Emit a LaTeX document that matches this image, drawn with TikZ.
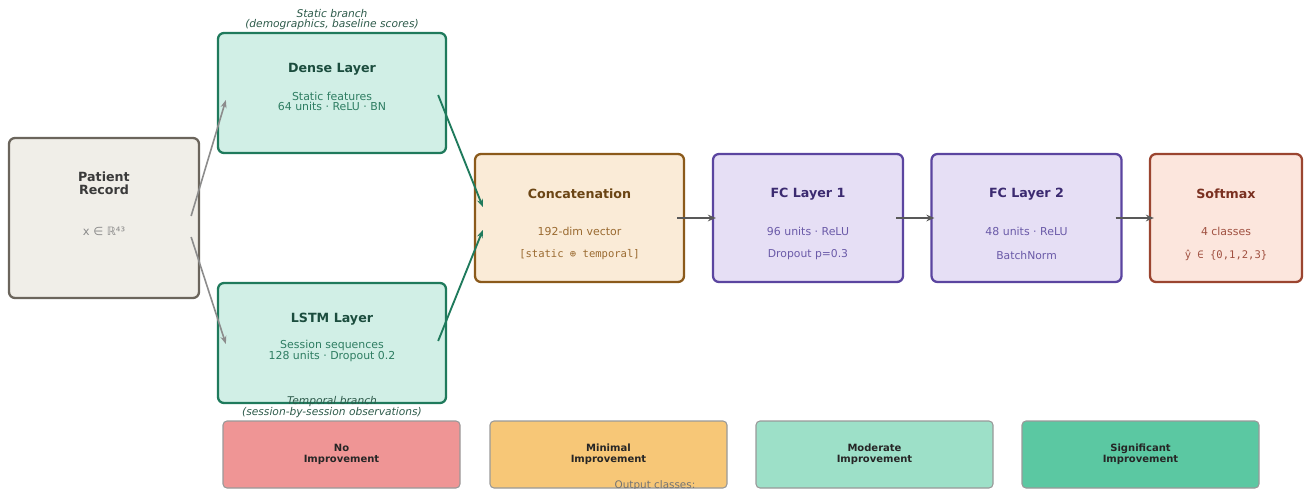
\documentclass[tikz,border=0pt]{standalone}
\usepackage{fontspec}
\setmainfont{DejaVu Sans}
\setmonofont{DejaVu Sans Mono}
\usetikzlibrary{arrows.meta}
\definecolor{pfill}{HTML}{F0EEE8}\definecolor{pdraw}{HTML}{6B655C}\definecolor{ptext}{HTML}{3A3A3A}\definecolor{psub}{HTML}{8A8A8A}
\definecolor{gfill}{HTML}{D1EFE6}\definecolor{gdraw}{HTML}{1F7A5C}\definecolor{gtext}{HTML}{1B4D3E}\definecolor{gsub}{HTML}{2E7D62}\definecolor{glab}{HTML}{2D5A4A}
\definecolor{cfill}{HTML}{FAEBD7}\definecolor{cdraw}{HTML}{8B5A1B}\definecolor{ctext}{HTML}{6B4514}\definecolor{csub}{HTML}{9A6A30}
\definecolor{ffill}{HTML}{E6DFF5}\definecolor{fdraw}{HTML}{5B45A0}\definecolor{ftext}{HTML}{3B2A70}\definecolor{fsub}{HTML}{6A5AA8}
\definecolor{sfill}{HTML}{FCE6DD}\definecolor{sdraw}{HTML}{9B4530}\definecolor{stext}{HTML}{7A3020}\definecolor{ssub}{HTML}{A05040}
\definecolor{c0}{HTML}{EF9595}\definecolor{c1}{HTML}{F7C777}\definecolor{c2}{HTML}{9DE0C8}\definecolor{c3}{HTML}{5BC8A2}
\begin{document}
\begin{tikzpicture}[x=0.75pt,y=-0.75pt,
  box/.style={draw, line width=1.7pt, rounded corners=4.5pt, inner sep=0pt},
  cls/.style={draw=black!40, line width=0.8pt, rounded corners=3pt, inner sep=0pt, minimum width=177.75pt, minimum height=50.25pt, font=\bfseries\fontsize{7.5}{8.5}\selectfont, text=black!85, align=center},
  ttl/.style={font=\bfseries\fontsize{9.5}{10}\selectfont, align=center, inner sep=0pt},
  sub/.style={font=\fontsize{8.2}{7.5}\selectfont, align=center, inner sep=0pt},
  msub/.style={font=\ttfamily\fontsize{7.9}{8}\selectfont, align=center, inner sep=0pt},
  lab/.style={font=\itshape\fontsize{8}{7.5}\selectfont, text=glab, align=center, inner sep=0pt},
  garr/.style={line width=1.2pt, draw=black!45, -{Stealth[length=6pt,width=4.5pt]}},
  grarr/.style={line width=1.4pt, draw=gdraw, -{Stealth[length=6pt,width=4.5pt]}},
  darr/.style={line width=1.7pt, draw=black!65, -{Stealth[length=6pt,width=5pt]}}]
\useasboundingbox (0,0) rectangle (1304,489);
% boxes
\node[box, draw=pdraw, fill=pfill, minimum width=142.5pt, minimum height=120pt] (patient) at (104,218) {};
\node[box, draw=gdraw, fill=gfill, minimum width=171pt, minimum height=90pt] (dense) at (332,93) {};
\node[box, draw=gdraw, fill=gfill, minimum width=171pt, minimum height=90pt] (lstm) at (332,343) {};
\node[box, draw=cdraw, fill=cfill, minimum width=156.75pt, minimum height=96pt] (concat) at (579.5,218) {};
\node[box, draw=fdraw, fill=ffill, minimum width=142.5pt, minimum height=96pt] (fc1) at (808,218) {};
\node[box, draw=fdraw, fill=ffill, minimum width=142.5pt, minimum height=96pt] (fc2) at (1026.5,218) {};
\node[box, draw=sdraw, fill=sfill, minimum width=114pt, minimum height=96pt] (soft) at (1226,218) {};
% texts
\node[ttl, text=ptext, font=\bfseries\fontsize{9.5}{9.75}\selectfont] (ptitle) at (104,183.5) {Patient\\Record};
\node[sub, text=psub, font=\fontsize{8.6}{9}\selectfont] (psubt) at (104,231) {x ∈ ℝ⁴³};
\node[lab] (slab) at (332,20) {Static branch\\(demographics, baseline scores)};
\node[ttl, text=gtext] (dtitle) at (332,69) {Dense Layer};
\node[sub, text=gsub] (dsub) at (332,101) {Static features\\64 units · ReLU · BN};
\node[ttl, text=gtext] (ltitle) at (332,319) {LSTM Layer};
\node[sub, text=gsub] (lsub) at (332,351) {Session sequences\\128 units · Dropout 0.2};
\node[lab] (tlab) at (332,407) {Temporal branch\\(session-by-session observations)};
\node[ttl, text=ctext] (ctitle) at (579.5,194) {Concatenation};
\node[sub, text=csub] (csub1) at (579.5,231) {192-dim vector};
\node[msub, text=csub] (csub2) at (579.5,255) {[static ⊕ temporal]};
\node[ttl, text=ftext] (f1title) at (808,194) {FC Layer 1};
\node[sub, text=fsub] (f1sub1) at (808,231) {96 units · ReLU};
\node[sub, text=fsub, font=\fontsize{8.1}{8}\selectfont] (f1sub2) at (808,255) {Dropout p=0.3};
\node[ttl, text=ftext] (f2title) at (1026.5,194) {FC Layer 2};
\node[sub, text=fsub] (f2sub1) at (1026.5,231) {48 units · ReLU};
\node[sub, text=fsub, font=\fontsize{8.1}{8}\selectfont] (f2sub2) at (1026.5,255) {BatchNorm};
\node[ttl, text=stext] (stitle) at (1226,194) {Softmax};
\node[sub, text=ssub] (ssub1) at (1226,231) {4 classes};
\node[msub, text=ssub] (ssub2) at (1226,255) {ŷ ∈ \{0,1,2,3\}};
% class boxes
\node[cls, fill=c0] (k0) at (341.5,454.5) {No\\Improvement};
\node[cls, fill=c1] (k1) at (608.5,454.5) {Minimal\\Improvement};
\node[cls, fill=c2] (k2) at (874.5,454.5) {Moderate\\Improvement};
\node[cls, fill=c3] (k3) at (1140.5,454.5) {Significant\\Improvement};
\node[sub, text=black!55, font=\fontsize{7.8}{8}\selectfont] (outlab) at (655,486) {Output classes:};
% connectors
\draw[garr] ([shift={(-9,-2)}]patient.east) -- ([shift={(9,7)}]dense.west);
\draw[garr] ([shift={(-9,19)}]patient.east) -- ([shift={(9,1)}]lstm.west);
\draw[grarr] ([shift={(-9,2)}]dense.east) -- ([shift={(9,-11)}]concat.west);
\draw[grarr] ([shift={(-9,-2)}]lstm.east) -- ([shift={(9,12)}]concat.west);
\draw[darr] ([shift={(-8,0)}]concat.east) -- ([shift={(4,0)}]fc1.west);
\draw[darr] ([shift={(-8,0)}]fc1.east) -- ([shift={(4,0)}]fc2.west);
\draw[darr] ([shift={(-7,0)}]fc2.east) -- ([shift={(5,0)}]soft.west);
\end{tikzpicture}
\end{document}
